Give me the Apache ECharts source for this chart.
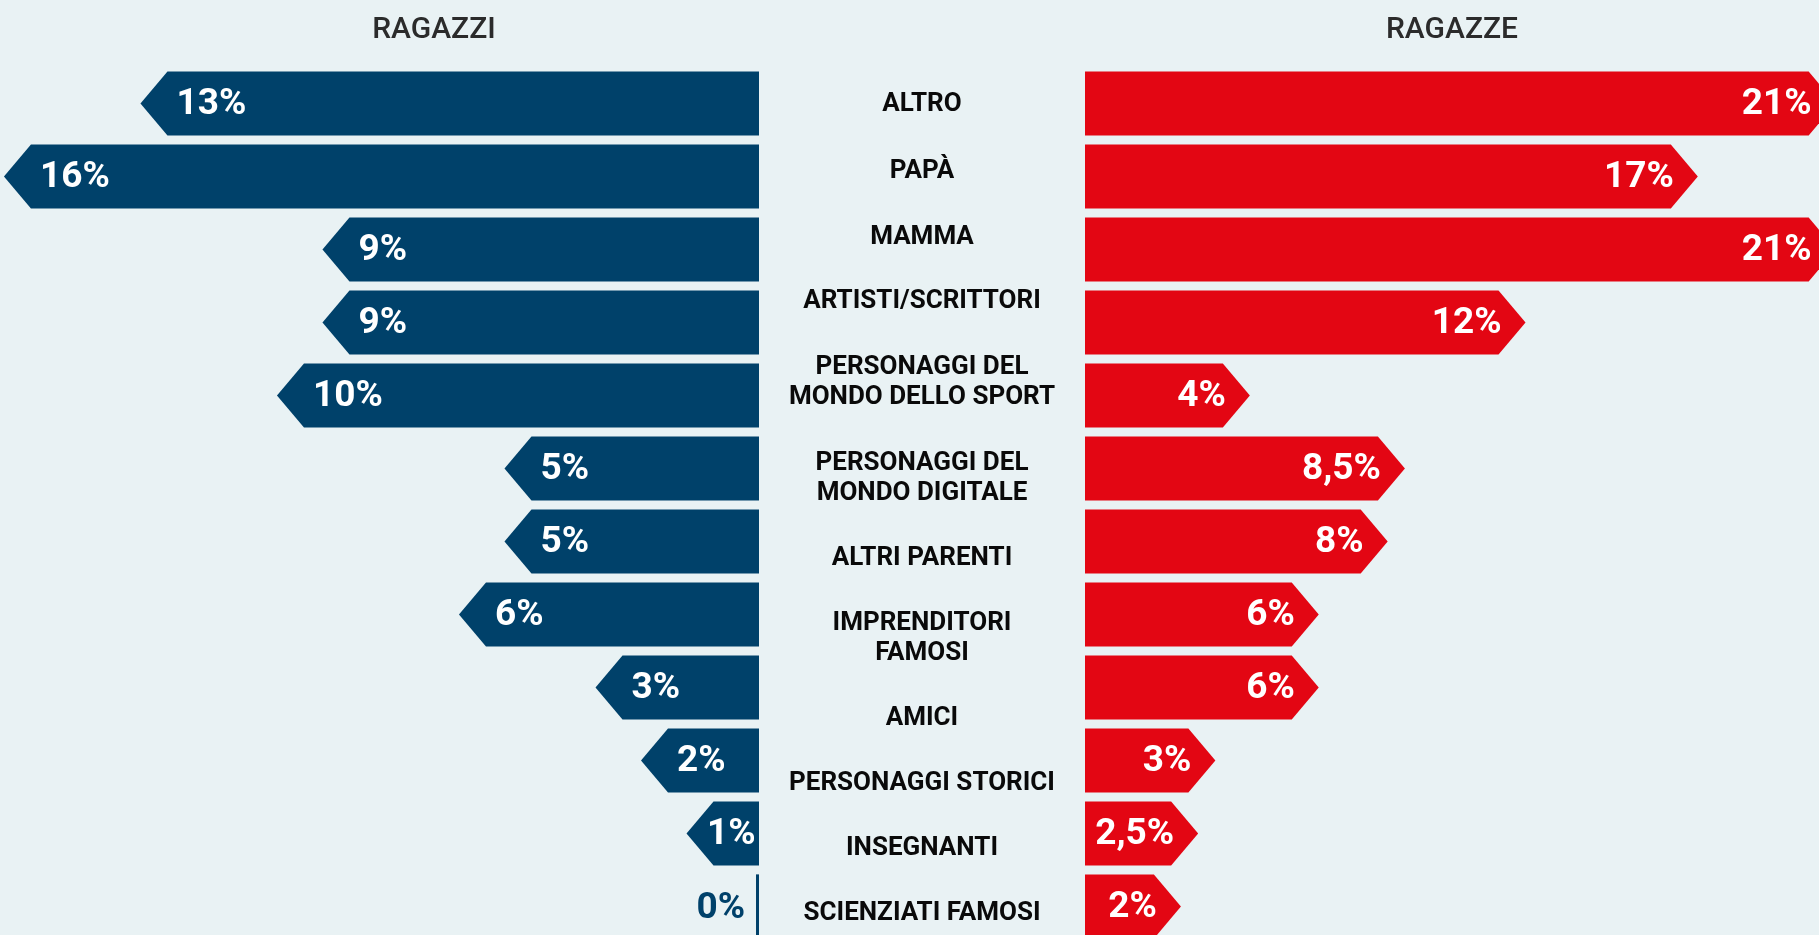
<!DOCTYPE html>
<html>
<head>
<meta charset="utf-8">
<script src="https://cdn.jsdelivr.net/npm/echarts@6/dist/echarts.min.js"></script>
<style>
  html, body { margin: 0; padding: 0; background: #e9f2f4; }
  #chart { width: 1819px; height: 935px; }
</style>
</head>
<body>
<div id="chart"></div>
<script>
const categories = [
  "ALTRO",
  "PAPÀ",
  "MAMMA",
  "ARTISTI/SCRITTORI",
  "PERSONAGGI DEL\nMONDO DELLO SPORT",
  "PERSONAGGI DEL\nMONDO DIGITALE",
  "ALTRI PARENTI",
  "IMPRENDITORI\nFAMOSI",
  "AMICI",
  "PERSONAGGI STORICI",
  "INSEGNANTI",
  "SCIENZIATI FAMOSI"
];
const boys = [13, 16, 9, 9, 10, 5, 5, 6, 3, 2, 1, 0];
const girls = [21, 17, 21, 12, 4, 8.5, 8, 6, 6, 3, 2.5, 2];

const BLUE = "#00416a";
const RED = "#e30613";
const TIP = 27; // arrow point length in px
const labelFont = "bold 37px Roboto";
// the centre captions are laid out as a text column, not exactly on the bar centres
const captionShift = [1, -5, -12, -21, -13, 10, 17, 24, 31, 23, 15, 7];

const fmt = (v) => String(v).replace(".", ",") + "%";

const chart = echarts.init(document.getElementById("chart"));

// left side bars grow leftwards (inverse x axis)
function renderBoys(params, api) {
  const v = api.value(0);
  const c = api.value(1);
  const start = api.coord([0, c]);
  const end = api.coord([v, c]);
  const h = api.size([0, 1])[1] * 0.88;
  const top = start[1] - h / 2;
  const bot = start[1] + h / 2;
  if (v === 0) {
    return {
      type: "group",
      children: [
        { type: "rect", shape: { x: start[0] - 3, y: top, width: 3, height: h }, style: { fill: BLUE } },
        { type: "text", style: { text: fmt(v), x: start[0] - 14, y: start[1] + 2, align: "right", verticalAlign: "middle", font: labelFont, fill: BLUE } }
      ]
    };
  }
  const lx = Math.min(end[0] + 9, start[0] - 52);
  return {
    type: "group",
    children: [
      {
        type: "polygon",
        shape: { points: [[start[0], top], [end[0], top], [end[0] - TIP, start[1]], [end[0], bot], [start[0], bot]] },
        style: { fill: BLUE }
      },
      { type: "text", style: { text: fmt(v), x: lx, y: start[1] + 1, align: "left", verticalAlign: "middle", font: labelFont, fill: "#fff" } }
    ]
  };
}

function renderGirls(params, api) {
  const v = api.value(0);
  const c = api.value(1);
  const start = api.coord([0, c]);
  const end = api.coord([v, c]);
  const h = api.size([0, 1])[1] * 0.88;
  const top = start[1] - h / 2;
  const bot = start[1] + h / 2;
  return {
    type: "group",
    children: [
      {
        type: "polygon",
        shape: { points: [[start[0], top], [end[0], top], [end[0] + TIP, start[1]], [end[0], bot], [start[0], bot]] },
        style: { fill: RED }
      },
      { type: "text", style: { text: fmt(v), x: end[0] + 3, y: start[1] + 1, align: "right", verticalAlign: "middle", font: labelFont, fill: "#fff" } }
    ]
  };
}

// category captions in the gap between the two halves
function renderCaption(params, api) {
  const c = api.value(1);
  const p = api.coord([0, c]);
  return {
    type: "text",
    style: {
      text: categories[c],
      x: p[0] - 163,
      y: p[1] + captionShift[c],
      align: "center",
      verticalAlign: "middle",
      fontFamily: "Roboto",
      fontWeight: "bold",
      fontSize: 26,
      lineHeight: 30,
      fill: "#0a0a0a"
    }
  };
}

const option = {
  backgroundColor: "#e9f2f4",
  animation: false,
  title: [
    { text: "RAGAZZI", left: 429, top: 10, textAlign: "center", textStyle: { fontFamily: "Roboto", fontWeight: 500, fontSize: 30, color: "#2b2b2b" } },
    { text: "RAGAZZE", left: 1447, top: 10, textAlign: "center", textStyle: { fontFamily: "Roboto", fontWeight: 500, fontSize: 30, color: "#2b2b2b" } }
  ],
  grid: [
    { left: 0, top: 67, width: 759, height: 876, outerBoundsMode: "none" },
    { left: 1085, top: 67, width: 734, height: 876, outerBoundsMode: "none" }
  ],
  xAxis: [
    { gridIndex: 0, type: "value", min: 0, max: 16.68, inverse: true, show: false },
    { gridIndex: 1, type: "value", min: 0, max: 21.3, show: false }
  ],
  yAxis: [
    { gridIndex: 0, type: "category", data: categories, inverse: true, show: false },
    { gridIndex: 1, type: "category", data: categories, inverse: true, show: false }
  ],
  series: [
    {
      type: "custom",
      xAxisIndex: 0,
      yAxisIndex: 0,
      renderItem: renderBoys,
      encode: { x: 0, y: 1 },
      data: boys.map((v, i) => [v, i])
    },
    {
      type: "custom",
      xAxisIndex: 1,
      yAxisIndex: 1,
      renderItem: renderGirls,
      encode: { x: 0, y: 1 },
      data: girls.map((v, i) => [v, i])
    },
    {
      type: "custom",
      xAxisIndex: 1,
      yAxisIndex: 1,
      renderItem: renderCaption,
      encode: { x: 0, y: 1 },
      data: categories.map((c, i) => [0, i])
    }
  ]
};

chart.setOption(option);
window.addEventListener("resize", () => chart.resize());
</script>
</body>
</html>
